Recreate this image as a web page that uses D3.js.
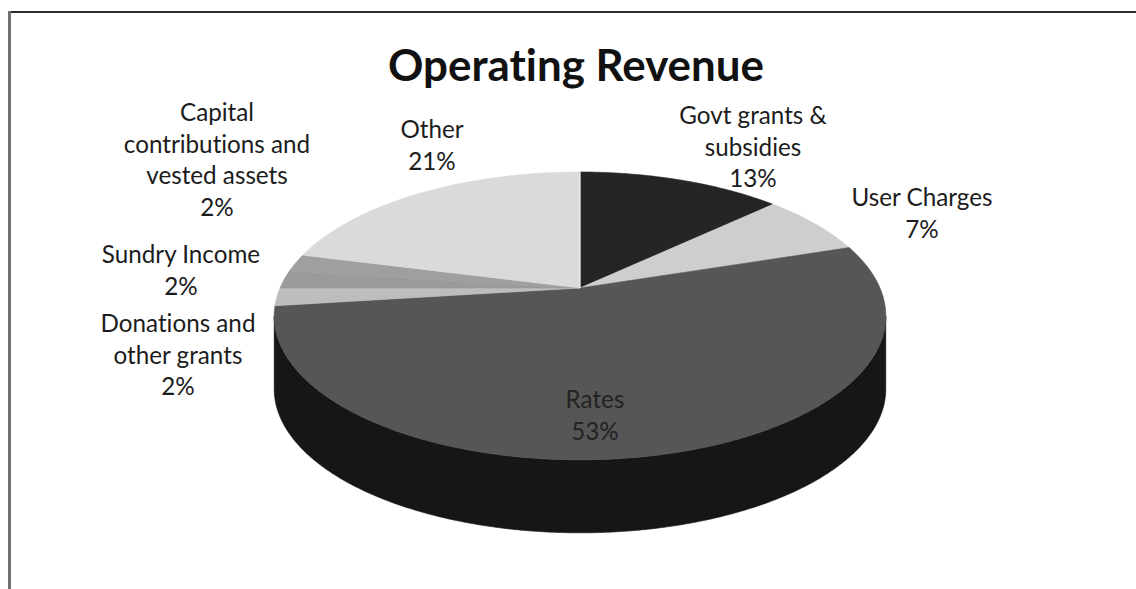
<!DOCTYPE html>
<html>
<head>
<meta charset="utf-8">
<script src="https://cdn.jsdelivr.net/npm/d3@7"></script>
<style>
  html, body { margin: 0; padding: 0; background: #fff; }
  svg { display: block; }
  text { font-family: Lato, "Open Sans", sans-serif; fill: #1c1c1c;
         font-variant-ligatures: none; font-feature-settings: "liga" 0, "clig" 0; }
</style>
</head>
<body>
<svg id="chart" width="1136" height="589"></svg>
<script>
// Operating revenue shares (%)
const categories = [
  "Govt grants & subsidies",
  "User Charges",
  "Rates",
  "Donations and other grants",
  "Sundry Income",
  "Capital contributions and vested assets",
  "Other"
];
const values = [13, 7, 53, 2, 2, 2, 21];
const labelLines = [
  ["Govt grants &", "subsidies"],
  ["User Charges"],
  ["Rates"],
  ["Donations and", "other grants"],
  ["Sundry Income"],
  ["Capital", "contributions and", "vested assets"],
  ["Other"]
];
const title = "Operating Revenue";

// ---- styling / layout ----
const topColors  = ["#252525", "#cecece", "#565656", "#bdbdbd", "#9b9b9b", "#9f9f9f", "#dadada"];
const sideColors = ["#121212", "#8a8a8a", "#161616", "#7c7c7c", "#5e5e5e", "#646464", "#9a9a9a"];
// label anchor: centre x and first baseline
const labelAnchor = {
  "Govt grants & subsidies": [753, 124],
  "User Charges": [922, 206],
  "Rates": [595, 408],
  "Donations and other grants": [178, 332],
  "Sundry Income": [181, 263],
  "Capital contributions and vested assets": [217, 121],
  "Other": [432, 138]
};
const lineGap = 31.5;

const W = 1136, H = 589;
const cx = 580, cy = 288;      // apex of the pie top
const Rx = 300, Ry = 138.5;    // radii before perspective
const persp = 0.194;           // perspective strength
const depth = 73;              // thickness of the pie

const svg = d3.select("#chart");

// frame
svg.append("line").attr("x1", 8).attr("x2", W).attr("y1", 12).attr("y2", 12)
  .attr("stroke", "#2c2c2c").attr("stroke-width", 2);
svg.append("line").attr("x1", 9.5).attr("x2", 9.5).attr("y1", 11).attr("y2", H)
  .attr("stroke", "#707070").attr("stroke-width", 3);

// projection of a point on the pie rim (angle clockwise from the back)
function proj(theta, r, dz) {
  const u = r * Math.sin(theta), v = -r * Math.cos(theta);
  const w = 1 - persp * v;
  return [cx + Rx * u / w, cy + Ry * v / w + (dz || 0)];
}

const pie = d3.pie().sort(null).value(d => d.value);
const arcs = pie(categories.map((c, i) => ({ name: c, value: values[i], i })));

function arcPoints(a0, a1, dz) {
  const n = Math.max(2, Math.ceil((a1 - a0) / 0.01));
  return d3.range(n + 1).map(k => proj(a0 + (a1 - a0) * k / n, 1, dz));
}
const line = d3.line();

// visible side wall lies between the left and right silhouette angles
const sil0 = Math.acos(-persp), sil1 = 2 * Math.PI - Math.acos(-persp);

const walls = arcs.map(a => {
  const s = Math.max(a.startAngle, sil0), e = Math.min(a.endAngle, sil1);
  return { a, s, e };
}).filter(d => d.e > d.s)
  .sort((p, q) => Math.abs(Math.PI - (q.s + q.e) / 2) - Math.abs(Math.PI - (p.s + p.e) / 2));

const wallG = svg.append("g");
wallG.selectAll("path").data(walls).join("path")
  .attr("d", d => {
    const top = arcPoints(d.s, d.e, 0);
    const bot = arcPoints(d.s, d.e, depth).reverse();
    return line(top.concat(bot)) + "Z";
  })
  .attr("fill", d => sideColors[d.a.data.i])
  .attr("stroke", d => sideColors[d.a.data.i])
  .attr("stroke-width", 0.6);

// top faces
const topG = svg.append("g");
topG.selectAll("path").data(arcs).join("path")
  .attr("d", a => line([[cx, cy]].concat(arcPoints(a.startAngle, a.endAngle, 0))) + "Z")
  .attr("fill", a => topColors[a.data.i])
  .attr("stroke", a => topColors[a.data.i])
  .attr("stroke-width", 0.6)
  .attr("stroke-linejoin", "round");

// thin light seam where the first slice begins
const seam = proj(0, 1, 0);
svg.append("line").attr("x1", cx).attr("y1", cy).attr("x2", seam[0]).attr("y2", seam[1])
  .attr("stroke", "#f2f2f2").attr("stroke-width", 1);

// label font size fitted to Calibri-like metrics
const probe = svg.append("text").attr("font-size", 100).text("User Charges");
const labelSize = 100 * 141 / probe.node().getComputedTextLength();
probe.remove();

const labelG = svg.append("g");
arcs.forEach(a => {
  const [x, y0] = labelAnchor[a.data.name];
  const lines = labelLines[a.data.i].concat([a.data.value + "%"]);
  const t = labelG.append("text")
    .attr("text-anchor", "middle")
    .attr("font-size", labelSize)
    .style("fill", a.data.name === "Rates" ? "#232323" : "#1c1c1c");
  lines.forEach((s, k) => {
    t.append("tspan").attr("x", x).attr("y", y0 + k * lineGap).text(s);
  });
});

// title
const tt = svg.append("text")
  .attr("x", cx - 4).attr("y", 81)
  .attr("text-anchor", "middle")
  .attr("font-weight", "bold")
  .attr("font-size", 100)
  .style("fill", "#111")
  .text(title);
tt.attr("font-size", 100 * 376 / tt.node().getComputedTextLength());
</script>
</body>
</html>
